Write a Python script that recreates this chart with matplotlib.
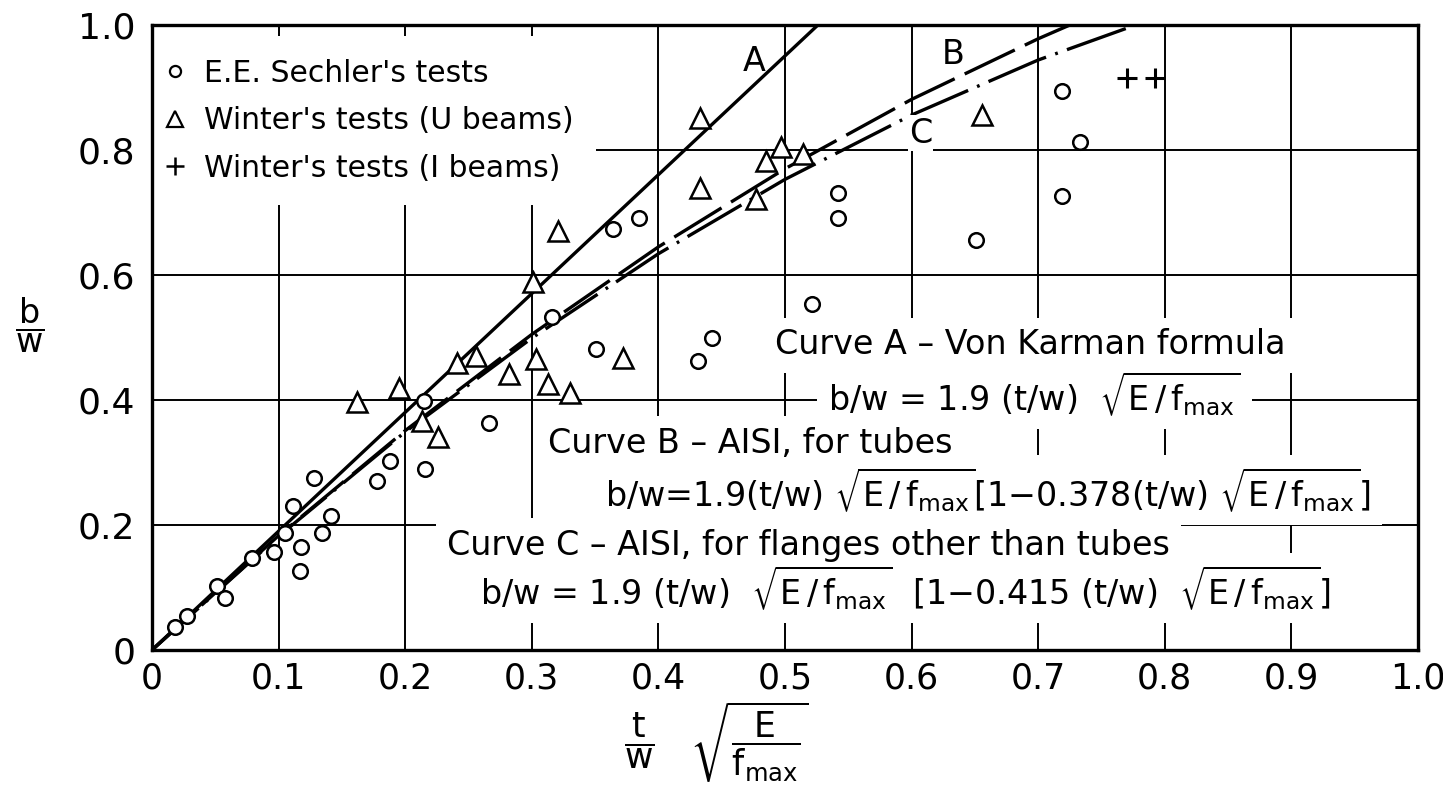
import numpy as np
import matplotlib
matplotlib.use('Agg')
import matplotlib.pyplot as plt
from matplotlib.lines import Line2D

plt.rcParams['font.family'] = ['DejaVu Sans']
plt.rcParams['mathtext.fontset'] = 'dejavusans'
plt.rcParams['lines.scale_dashes'] = False

# E.E. Sechler's tests (circles)
sech_x = [0.018, 0.028, 0.051, 0.058, 0.079, 0.096, 0.105, 0.111, 0.118, 0.117,
          0.134, 0.141, 0.128, 0.178, 0.188, 0.216, 0.215, 0.266, 0.316, 0.351,
          0.364, 0.385, 0.431, 0.442, 0.521, 0.542, 0.542, 0.651, 0.719, 0.733, 0.719]
sech_y = [0.037, 0.054, 0.103, 0.084, 0.148, 0.157, 0.187, 0.230, 0.165, 0.127,
          0.187, 0.214, 0.276, 0.270, 0.302, 0.289, 0.399, 0.364, 0.533, 0.481,
          0.673, 0.691, 0.462, 0.500, 0.553, 0.732, 0.692, 0.656, 0.895, 0.813, 0.727]

# Winter's tests, U beams (triangles)
wu_x = [0.162, 0.195, 0.213, 0.226, 0.241, 0.256, 0.282, 0.301, 0.303, 0.313,
        0.321, 0.330, 0.372, 0.433, 0.433, 0.477, 0.485, 0.497, 0.514, 0.656]
wu_y = [0.397, 0.420, 0.366, 0.341, 0.460, 0.470, 0.441, 0.589, 0.465, 0.425,
        0.671, 0.412, 0.467, 0.852, 0.740, 0.721, 0.782, 0.804, 0.794, 0.856]

# Winter's tests, I beams (plus)
wi_x = [0.770, 0.792]
wi_y = [0.915, 0.915]

# curves
curve_a_x = [0.0, 0.526]
curve_a_y = [0.0, 1.0]
curve_b_x = [0.0, 0.1, 0.2, 0.3, 0.4, 0.5, 0.6, 0.7, 0.725]
curve_b_y = [0.0, 0.183, 0.351, 0.505, 0.645, 0.770, 0.881, 0.978, 1.0]
curve_c_x = [0.0, 0.1, 0.2, 0.3, 0.4, 0.5, 0.6, 0.7, 0.777]
curve_c_y = [0.0, 0.182, 0.349, 0.499, 0.634, 0.753, 0.856, 0.944, 1.0]

xticks = [0, 0.1, 0.2, 0.3, 0.4, 0.5, 0.6, 0.7, 0.8, 0.9, 1.0]
xtick_labels = ['0', '0.1', '0.2', '0.3', '0.4', '0.5', '0.6', '0.7', '0.8', '0.9', '1.0']
yticks = [0, 0.2, 0.4, 0.6, 0.8, 1.0]
ytick_labels = ['0', '0.2', '0.4', '0.6', '0.8', '1.0']

sq = r'$\sqrt{\mathrm{E}\,/\,\mathrm{f}_{\mathrm{max}}}$'
notes = [
    (0.492, 0.488, 'Curve A \u2013 Von Karman formula'),
    (0.534, 0.410, 'b/w = 1.9 (t/w)  ' + sq),
    (0.313, 0.331, 'Curve B \u2013 AISI, for tubes'),
    (0.358, 0.256, 'b/w=1.9(t/w) ' + sq + '[1\u22120.378(t/w) ' + sq + ']'),
    (0.233, 0.168, 'Curve C \u2013 AISI, for flanges other than tubes'),
    (0.259, 0.099, 'b/w = 1.9 (t/w)  ' + sq + '  [1\u22120.415 (t/w)  ' + sq + ']'),
]

fig = plt.figure(figsize=(14.43, 8.01), dpi=100)
ax = fig.add_axes([152 / 1443, 151 / 801, 1266 / 1443, 625 / 801])
ax.set_xlim(0, 1)
ax.set_ylim(0, 1)
ax.set_xticks(xticks)
ax.set_xticklabels(xtick_labels)
ax.set_yticks(yticks)
ax.set_yticklabels(ytick_labels)
ax.tick_params(axis='x', length=0, labelsize=25, pad=8)
ax.tick_params(axis='y', length=0, labelsize=26, pad=12)
ax.set_axisbelow(True)
ax.grid(True, color='black', lw=1.4)
for s in ax.spines.values():
    s.set_linewidth(2.4)

ax.plot(curve_a_x, curve_a_y, color='black', lw=2.4, zorder=3)
ax.plot(curve_b_x, curve_b_y, color='black', lw=2.4, dashes=(40, 8), zorder=3)
ax.plot(curve_c_x, curve_c_y, color='black', lw=2.4, dashes=(45, 7, 2, 7), zorder=3)

ax.plot(sech_x, sech_y, 'o', ms=10.5, mfc='white', mec='black', mew=1.8, zorder=5)
ax.plot(wu_x, wu_y, '^', ms=14, mfc='white', mec='black', mew=1.8, zorder=5)
ax.plot(wi_x, wi_y, '+', ms=15, mec='black', mew=2.2, zorder=5)

# curve letters
ax.text(0.476, 0.941, 'A', fontsize=24, ha='center', va='center', zorder=4)
ax.text(0.633, 0.952, 'B', fontsize=24, ha='center', va='center', zorder=4)
ax.text(0.607, 0.827, 'C', fontsize=24, ha='center', va='center', zorder=4,
        bbox=dict(facecolor='white', edgecolor='none', pad=1))

# white patches behind the notes first (they break the grid), then the text
for x, y, s in notes:
    ax.text(x, y, s, fontsize=24, va='center', color='none', zorder=2.6,
            bbox=dict(facecolor='white', edgecolor='none', pad=8))
for x, y, s in notes:
    ax.text(x, y, s, fontsize=24, va='center', zorder=4)

handles = [
    Line2D([], [], ls='none', marker='o', ms=8, mfc='white', mec='black', mew=1.6),
    Line2D([], [], ls='none', marker='^', ms=12, mfc='white', mec='black', mew=1.6),
    Line2D([], [], ls='none', marker='+', ms=13, mec='black', mew=1.8),
]
labels = ["E.E. Sechler's tests", "Winter's tests (U beams)", "Winter's tests (I beams)"]
leg = ax.legend(handles, labels, loc='upper left', bbox_to_anchor=(-0.011, 0.982),
                fontsize=21.5, frameon=True,
                fancybox=False, framealpha=1, edgecolor='none', facecolor='white',
                handletextpad=0.45, handlelength=1.0, labelspacing=0.62,
                borderaxespad=0, borderpad=0.75)
leg.set_zorder(2.4)

fig.text(30 / 1443, 1 - 325 / 801, r'$\dfrac{\mathrm{b}}{\mathrm{w}}$', fontsize=24,
         ha='center', va='center')
fig.text(716 / 1443, 1 - 742 / 801,
         r'$\dfrac{\mathrm{t}}{\mathrm{w}}\ \ \ \sqrt{\dfrac{\mathrm{E}}{\mathrm{f}_{\mathrm{max}}}}$',
         fontsize=25, ha='center', va='center')

fig.savefig('out.png', dpi=100)
